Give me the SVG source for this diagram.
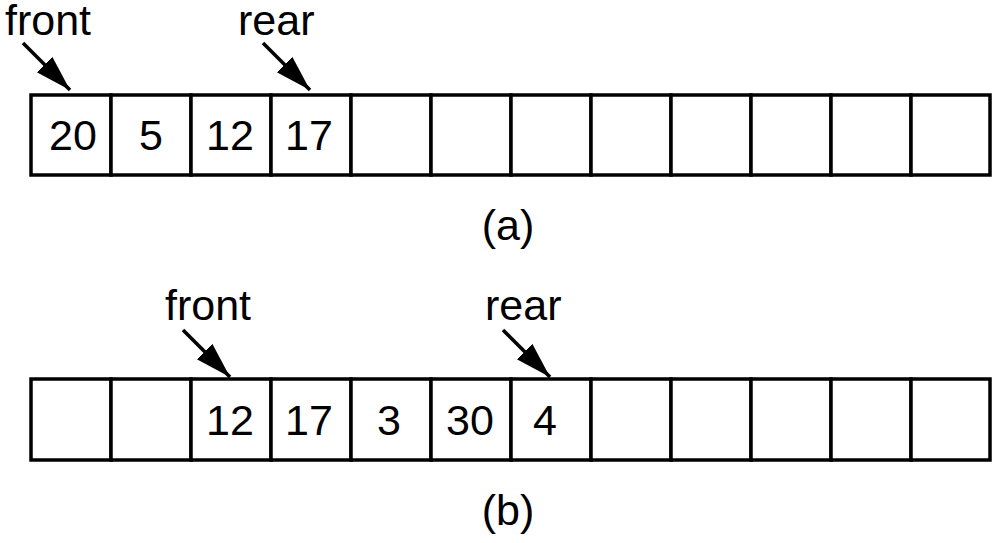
<svg xmlns="http://www.w3.org/2000/svg" width="997" height="543" viewBox="0 0 997 543">
<style>
.cell{fill:#fff;stroke:#000;stroke-width:3.5}
.t{font-family:"Liberation Sans",Arial,sans-serif;font-size:43px;fill:#000}
.c{text-anchor:middle}
.conn{stroke:#000;stroke-width:3.5;fill:none;marker-end:url(#ah)}
</style>
<defs>
<marker id="ah" markerUnits="userSpaceOnUse" markerWidth="38" markerHeight="24" refX="36" refY="11" orient="auto" viewBox="0 0 38 24">
<path d="M0,0 L36,11 L0,22 z" fill="#000"/>
</marker>
</defs>
<rect width="997" height="543" fill="#fff"/>
<g id="arrayA">
<rect class="cell" x="31" y="95" width="80" height="80"/>
<rect class="cell" x="111" y="95" width="80" height="80"/>
<rect class="cell" x="191" y="95" width="80" height="80"/>
<rect class="cell" x="271" y="95" width="80" height="80"/>
<rect class="cell" x="351" y="95" width="80" height="80"/>
<rect class="cell" x="431" y="95" width="80" height="80"/>
<rect class="cell" x="511" y="95" width="80" height="80"/>
<rect class="cell" x="591" y="95" width="80" height="80"/>
<rect class="cell" x="671" y="95" width="80" height="80"/>
<rect class="cell" x="751" y="95" width="80" height="80"/>
<rect class="cell" x="831" y="95" width="80" height="80"/>
<rect class="cell" x="911" y="95" width="79" height="80"/>
<text class="t c" x="73" y="150">20</text>
<text class="t c" x="151" y="150">5</text>
<text class="t c" x="230" y="150">12</text>
<text class="t c" x="309" y="150">17</text>
</g>
<g id="arrayB">
<rect class="cell" x="31" y="379" width="80" height="81"/>
<rect class="cell" x="111" y="379" width="80" height="81"/>
<rect class="cell" x="191" y="379" width="80" height="81"/>
<rect class="cell" x="271" y="379" width="80" height="81"/>
<rect class="cell" x="351" y="379" width="80" height="81"/>
<rect class="cell" x="431" y="379" width="80" height="81"/>
<rect class="cell" x="511" y="379" width="80" height="81"/>
<rect class="cell" x="591" y="379" width="80" height="81"/>
<rect class="cell" x="671" y="379" width="80" height="81"/>
<rect class="cell" x="751" y="379" width="80" height="81"/>
<rect class="cell" x="831" y="379" width="80" height="81"/>
<rect class="cell" x="911" y="379" width="79" height="81"/>
<text class="t c" x="230" y="435">12</text>
<text class="t c" x="309" y="435">17</text>
<text class="t c" x="389" y="435">3</text>
<text class="t c" x="470" y="435">30</text>
<text class="t c" x="545" y="435">4</text>
</g>
<g id="labels">
<text class="t" x="5" y="35">front</text>
<text class="t" x="238" y="35">rear</text>
<text class="t c" x="508" y="240">(a)</text>
<text class="t" x="165" y="320">front</text>
<text class="t" x="485" y="320">rear</text>
<text class="t c" x="508" y="525">(b)</text>
</g>
<g id="connectors">
<line class="conn" x1="23" y1="43" x2="70" y2="90"/>
<line class="conn" x1="263" y1="43" x2="310" y2="90"/>
<line class="conn" x1="183" y1="330" x2="230" y2="377"/>
<line class="conn" x1="503" y1="330" x2="550" y2="377"/>
</g>
</svg>
